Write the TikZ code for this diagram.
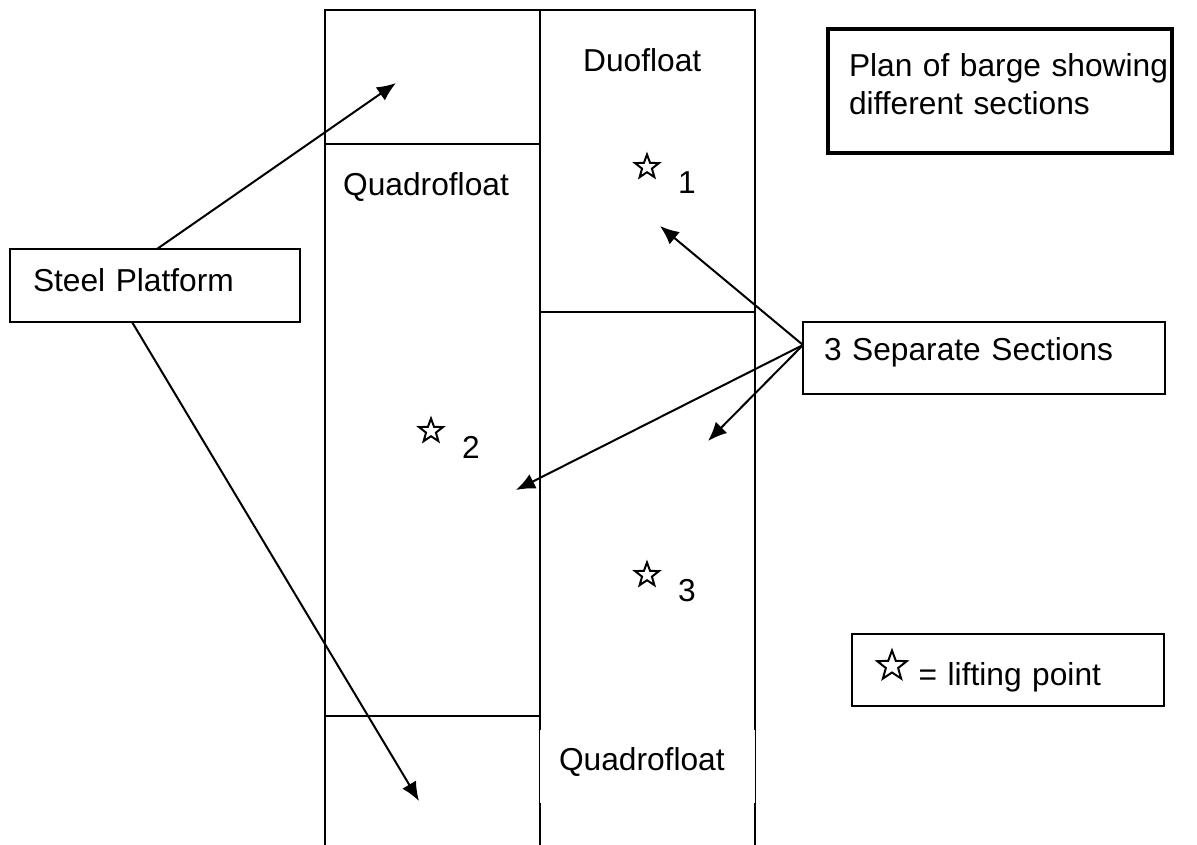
\documentclass[tikz,border=0pt]{standalone}
\usepackage{fontspec}
\setmainfont{Liberation Sans}
\usetikzlibrary{arrows.meta,shapes.geometric}
\tikzset{
  every node/.style={font=\fontsize{31.7}{38}\selectfont},
  box/.style={draw,line width=2pt,fill=white,align=left,inner sep=0pt,outer sep=0pt,text height=23,anchor=north west},
  liftstar/.style={draw,line width=2pt,star,star points=5,star point ratio=2.4,inner sep=0pt,outer sep=0pt,minimum size=#1},
  pointer/.style={line width=2pt,-{Latex[length=19pt,width=16pt]}},
  wall/.style={line width=2pt}
}
\begin{document}
\begin{tikzpicture}[x=1pt,y=-1pt]
        \useasboundingbox (0,0) rectangle (1197,845);
        % barge outline
        \draw[wall] (325,845) -- (325,10) -- (755,10) -- (755,845);
        \draw[wall] (540,10) -- (540,845);
        \draw[wall] (325,144) -- (540,144);
        \draw[wall] (540,312) -- (755,312);
        \draw[wall] (325,716) -- (540,716);
        % section labels
        \draw (583,60) node[anchor=west,inner sep=0pt] (duo) {Duofloat};
        \draw (343,187) node[anchor=west,inner sep=0pt] (quadtop) {Quadrofloat};
        \draw (647.5,766) node[fill=white,minimum width=215,minimum height=73,inner sep=0pt,inner xsep=19,text width=177,align=left,text height=23,text depth=14] (quadlow) {\mbox{Quadrofloat}};
        % lifting points
        \draw (647,167) node[liftstar=25] (star1) {} +(40,16) node (n1) {1};
        \draw (431,431) node[liftstar=25] (star2) {} +(40,16) node (n2) {2};
        \draw (647,575) node[liftstar=25] (star3) {} +(40,16) node (n3) {3};
        % boxes
        \draw (828,29) node[box,line width=4pt,minimum width=344,minimum height=124,text width=302,inner xsep=21,text depth=51] (plan) {\mbox{Plan of barge showing}\\different sections};
        \draw (10,249) node[box,minimum width=290,minimum height=73,text width=244,inner xsep=23,text depth=12] (steel) {Steel Platform};
        \draw (803,322) node[box,minimum width=362,minimum height=72,text width=320,inner xsep=21,text depth=18] (sections) {3 Separate Sections};
        \draw (852,634) node[box,minimum width=312,minimum height=72,text width=186,inner xsep=63,align=right,text height=32,text depth=2] (key) {= lifting point};
        \draw (892,666) node[liftstar=31] (keystar) {};
        % pointers
        \coordinate (platformtop) at (396,83);
        \coordinate (platformlow) at (419,801);
        \coordinate (sec1) at (660,226);
        \coordinate (sec2) at (516,490);
        \coordinate (sec3) at (708,441);
        \coordinate (steeltop) at (157,249);
        \coordinate (steellow) at (132,322);
        \draw[pointer] (steeltop) -- (platformtop);
        \draw[pointer] (steellow) -- (platformlow);
        \draw[pointer] (sections.west) ++(0,-13) coordinate (secout) -- (sec1);
        \draw[pointer] (secout) -- (sec2);
        \draw[pointer] (secout) -- (sec3);
\end{tikzpicture}
\end{document}
